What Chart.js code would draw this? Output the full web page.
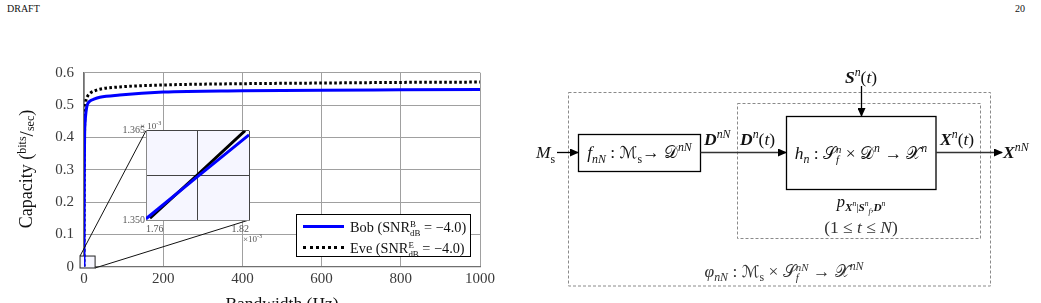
<!DOCTYPE html>
<html>
<head>
<meta charset="utf-8">
<script src="https://cdn.jsdelivr.net/npm/chart.js@4.4.0/dist/chart.umd.min.js"></script>
<style>
  html, body { margin: 0; padding: 0; background: #fff; }
  body { width: 1041px; height: 303px; position: relative; overflow: hidden;
         font-family: "Liberation Serif", "DejaVu Serif", serif; color: #111; }
  .abs { position: absolute; white-space: nowrap; line-height: 1; }
  .ctr { transform: translateX(-50%); }
  .ss { display: inline-block; vertical-align: -0.4em; font-size: 0.62em; line-height: 0.95; text-align: left; }
  .ss span { display: block; }
  sup, sub { font-size: 0.68em; line-height: 0; }
  .cal { font-family: "DejaVu Sans", "Noto Sans", serif; font-style: normal; font-size: 0.95em; }
  i { font-style: italic; }
  .bv { font-weight: bold; font-style: italic; }
  #mainChart { position: absolute; left: 0; top: 0; }
  #insetChart { position: absolute; left: 96px; top: 110px; }
  .legend { position: absolute; left: 296px; top: 214px; width: 173px; height: 41px;
            border: 1.5px solid #000; background: #fff; font-size: 14.3px; }
  .legend .row { position: absolute; left: 53px; }
  .legend .swatch { position: absolute; left: 6px; width: 41px; height: 0; }
</style>
</head>
<body>
<div class="abs" style="left:7px; top:4px; font-size:10px;">DRAFT</div>
<div class="abs" style="left:1015px; top:4px; font-size:10px;">20</div>

<canvas id="mainChart" width="520" height="303"></canvas>
<canvas id="insetChart" width="180" height="140"></canvas>

<div class="abs" style="left:140px; top:122px; font-size:9px; color:#555;">× 10<sup>-3</sup></div>
<div class="abs" style="left:243px; top:235px; font-size:9px; color:#555;">×10<sup>-3</sup></div>

<div class="legend">
  <div class="swatch" style="top:10px; border-top:3px solid #0000ff;"></div>
  <div class="swatch" style="top:31px; border-top:3px dotted #000;"></div>
  <div class="row" style="top:4px;">Bob (SNR<span class="ss"><span>B</span><span>dB</span></span> = −4.0)</div>
  <div class="row" style="top:25px;">Eve (SNR<span class="ss"><span>E</span><span>dB</span></span> = −4.0)</div>
</div>

<!-- block diagram -->
<svg class="abs" style="left:0; top:0;" width="1041" height="303">
  <defs>
    <marker id="ah" markerWidth="9" markerHeight="8" refX="8" refY="4" orient="auto" markerUnits="userSpaceOnUse">
      <path d="M0,0 L9,4 L0,8 z" fill="#000"/>
    </marker>
  </defs>
  <rect x="568.5" y="92.5" width="422" height="193.5" fill="none" stroke="#8a8a8a" stroke-width="1" stroke-dasharray="3 2"/>
  <rect x="737.5" y="103.5" width="243" height="135" fill="none" stroke="#8a8a8a" stroke-width="1" stroke-dasharray="3 2"/>
  <rect x="578.5" y="134.5" width="122" height="37" fill="none" stroke="#000" stroke-width="1.3"/>
  <rect x="786.5" y="116.5" width="149.5" height="73" fill="none" stroke="#000" stroke-width="1.3"/>
  <line x1="557" y1="152.5" x2="578" y2="152.5" stroke="#000" stroke-width="1.3" marker-end="url(#ah)"/>
  <line x1="700.5" y1="152.5" x2="786" y2="152.5" stroke="#333" stroke-width="1.3" marker-end="url(#ah)"/>
  <line x1="936" y1="152.5" x2="1002" y2="152.5" stroke="#333" stroke-width="1.3" marker-end="url(#ah)"/>
  <line x1="861.5" y1="86" x2="861.5" y2="116" stroke="#000" stroke-width="1.3" marker-end="url(#ah)"/>
</svg>

<div class="abs" style="left:536px; top:144px; font-size:17.5px;"><i>M</i><sub>s</sub></div>
<div class="abs ctr" style="left:639.5px; top:144px; font-size:17.5px;"><i>f</i><sub><i>nN</i></sub> : <span class="cal">ℳ</span><sub>s</sub>→ <span class="cal">𝒟</span><sup><i>nN</i></sup></div>
<div class="abs" style="left:704px; top:131px; font-size:17.5px;"><span class="bv">D</span><sup><i>nN</i></sup></div>
<div class="abs" style="left:740px; top:131px; font-size:17.5px;"><span class="bv">D</span><sup><i>n</i></sup>(<i>t</i>)</div>
<div class="abs ctr" style="left:861px; top:144px; font-size:17.5px;"><i>h</i><sub><i>n</i></sub> : <span class="cal">𝒮</span><span class="ss"><span><i>n</i></span><span><i>f</i></span></span> × <span class="cal">𝒟</span><sup><i>n</i></sup> → <span class="cal">𝒳</span><sup><i>n</i></sup></div>
<div class="abs" style="left:940px; top:131px; font-size:17.5px;"><span class="bv">X</span><sup><i>n</i></sup>(<i>t</i>)</div>
<div class="abs" style="left:1003px; top:144px; font-size:17.5px;"><span class="bv">X</span><sup><i>nN</i></sup></div>
<div class="abs ctr" style="left:861px; top:69px; font-size:17.5px;"><span class="bv">S</span><sup><i>n</i></sup>(<i>t</i>)</div>
<div class="abs ctr" style="left:861px; top:194px; font-size:16.5px;"><i>p</i><sub><span class="bv">X</span><sup><i>n</i></sup>|<span class="bv">S</span><sup><i>n</i></sup><sub><i>f</i></sub>,<span class="bv">D</span><sup><i>n</i></sup></sub></div>
<div class="abs ctr" style="left:861px; top:219px; font-size:17.5px; color:#333;">(1 ≤ <i>t</i> ≤ <i>N</i>)</div>
<div class="abs ctr" style="left:784px; top:262px; font-size:17.5px; color:#333;"><i>φ</i><sub><i>nN</i></sub> : <span class="cal">ℳ</span><sub>s</sub> × <span class="cal">𝒮</span><span class="ss"><span><i>nN</i></span><span><i>f</i></span></span> → <span class="cal">𝒳</span><sup><i>nN</i></sup></div>

<script>
// main plot values
const bandwidth = [0, 0.3, 0.8, 1.5, 3, 5, 8, 15, 25, 40, 90, 200, 400, 600, 800, 1000];
const bobCapacity = [0, 0.15, 0.3, 0.4, 0.45, 0.478, 0.5, 0.512, 0.518, 0.524, 0.531, 0.540, 0.544, 0.546, 0.547, 0.548];
const eveCapacity = [0, 0.17, 0.32, 0.43, 0.49, 0.515, 0.525, 0.536, 0.543, 0.549, 0.556, 0.562, 0.566, 0.568, 0.570, 0.571];
const xTicks = [0, 200, 400, 600, 800, 1000];
const yTicks = [0, 0.1, 0.2, 0.3, 0.4, 0.5, 0.6];

// zoomed inset (units of 1e-3)
const insetBobBw = [1.76, 1.79, 1.82];
const insetBob = [1.3502, 1.3573, 1.3643];
const insetEveBw = [1.7623, 1.79, 1.8177];
const insetEve = [1.3503, 1.3576, 1.365];
const insetXTicks = [1.76, 1.79, 1.82];
const insetXLabels = ['1.76', '', '1.82'];
const insetYTicks = [1.350, 1.3575, 1.365];
const insetYLabels = ['1.350', '', '1.365'];

// region of the main plot that the inset magnifies
const zoomX = [-10, 28];
const zoomY = [-0.004, 0.033];

const serif = '"Liberation Serif", "DejaVu Serif", serif';
Chart.defaults.font.family = serif;

function toPoints(xs, ys) {
    return xs.map((x, i) => ({ x: x, y: ys[i] }));
}

const insetBackground = {
    id: 'insetBackground',
    beforeDraw(chart) {
        const a = chart.chartArea;
        const ctx = chart.ctx;
        ctx.save();
        ctx.fillStyle = '#f6f6ff';
        ctx.fillRect(a.left, a.top, a.right - a.left, a.bottom - a.top);
        ctx.restore();
    }
};

const insetChart = new Chart(document.getElementById('insetChart'), {
    type: 'line',
    data: {
        datasets: [
            { data: toPoints(insetBobBw, insetBob), borderColor: '#0000ff', borderWidth: 3, pointRadius: 0 },
            { data: toPoints(insetEveBw, insetEve), borderColor: '#000', borderWidth: 3, pointRadius: 0 }
        ]
    },
    options: {
        responsive: false,
        animation: false,
        devicePixelRatio: 1,
        layout: { padding: { left: 0, top: 20.7, right: 27, bottom: 0 } },
        plugins: { legend: { display: false }, tooltip: { enabled: false } },
        scales: {
            x: {
                type: 'linear', min: 1.76, max: 1.82,
                afterBuildTicks: s => { s.ticks = insetXTicks.map(v => ({ value: v })); },
                afterFit: s => { s.height = 30; },
                ticks: { align: 'inner', padding: 3, color: '#555', font: { size: 10 },
                         callback: (v, i) => insetXLabels[i] },
                grid: { color: '#444', lineWidth: 1, drawTicks: false },
                border: { color: '#888', width: 1 }
            },
            y: {
                type: 'linear', min: 1.350, max: 1.365,
                afterBuildTicks: s => { s.ticks = insetYTicks.map(v => ({ value: v })); },
                afterFit: s => { s.width = 50; },
                ticks: { padding: 1, color: '#555', font: { size: 10 },
                         callback: (v, i) => insetYLabels[i] },
                grid: { color: '#444', lineWidth: 1, drawTicks: false },
                border: { color: '#888', width: 1 }
            }
        }
    },
    plugins: [insetBackground]
});

const mainDecor = {
    id: 'mainDecor',
    beforeDatasetsDraw(chart) {
        const ctx = chart.ctx;
        const x = chart.scales.x, y = chart.scales.y;
        const x0 = x.getPixelForValue(zoomX[0]), x1 = x.getPixelForValue(zoomX[1]);
        const y0 = y.getPixelForValue(zoomY[1]), y1 = y.getPixelForValue(zoomY[0]);
        ctx.save();
        ctx.fillStyle = '#f6f6ff';
        ctx.fillRect(x0, y0, x1 - x0, y1 - y0);
        ctx.strokeStyle = '#222';
        ctx.lineWidth = 1;
        ctx.strokeRect(x0, y0, x1 - x0, y1 - y0);
        ctx.restore();
    },
    afterDraw(chart) {
        const ctx = chart.ctx;
        const x = chart.scales.x, y = chart.scales.y;
        const x0 = x.getPixelForValue(zoomX[0]), x1 = x.getPixelForValue(zoomX[1]);
        const y0 = y.getPixelForValue(zoomY[1]), y1 = y.getPixelForValue(zoomY[0]);
        const ia = insetChart.chartArea;
        const offX = 96, offY = 110;
        ctx.save();
        ctx.strokeStyle = '#111';
        ctx.lineWidth = 1;
        ctx.beginPath();
        ctx.moveTo(x0, y0);
        ctx.lineTo(ia.left + offX, ia.top + offY);
        ctx.moveTo(x1, y1);
        ctx.lineTo(ia.right + offX, ia.bottom + offY);
        ctx.stroke();

        // axis titles
        ctx.fillStyle = '#111';
        ctx.font = '17.5px ' + serif;
        ctx.textAlign = 'center';
        ctx.textBaseline = 'alphabetic';
        ctx.fillText('Bandwidth (Hz)', (chart.chartArea.left + chart.chartArea.right) / 2, 309);

        ctx.translate(32, 169);
        ctx.rotate(-Math.PI / 2);
        ctx.textAlign = 'left';
        const parts = [
            { t: 'Capacity (', f: 18, dy: 0 },
            { t: 'bits', f: 12, dy: -6 },
            { t: '/', f: 19, dy: 1 },
            { t: 'sec', f: 12, dy: 2 },
            { t: ')', f: 18, dy: 0 }
        ];
        let total = 0;
        parts.forEach(p => { ctx.font = p.f + 'px ' + serif; p.w = ctx.measureText(p.t).width; total += p.w; });
        let cx = -total / 2;
        parts.forEach(p => {
            ctx.font = p.f + 'px ' + serif;
            ctx.fillText(p.t, cx, p.dy);
            cx += p.w;
        });
        ctx.restore();
    }
};

new Chart(document.getElementById('mainChart'), {
    type: 'line',
    data: {
        datasets: [
            {
                label: 'Bob',
                data: toPoints(bandwidth, bobCapacity),
                borderColor: '#0000ff',
                borderWidth: 3,
                pointRadius: 0,
                cubicInterpolationMode: 'monotone'
            },
            {
                label: 'Eve',
                data: toPoints(bandwidth, eveCapacity),
                borderColor: '#000',
                borderWidth: 3,
                borderDash: [2.6, 2.4],
                pointRadius: 0,
                cubicInterpolationMode: 'monotone'
            }
        ]
    },
    options: {
        responsive: false,
        animation: false,
        devicePixelRatio: 1,
        layout: { padding: { left: 0, top: 72.7, right: 40, bottom: 0 } },
        plugins: { legend: { display: false }, tooltip: { enabled: false } },
        scales: {
            x: {
                type: 'linear', min: 0, max: 1000,
                afterBuildTicks: s => { s.ticks = xTicks.map(v => ({ value: v })); },
                afterFit: s => { s.height = 36.3; },
                ticks: { padding: 3, color: '#3a3a3a', font: { size: 15 },
                         callback: v => String(v) },
                grid: { color: '#a0a0a0', lineWidth: 1, drawTicks: false },
                border: { color: '#707070', width: 1.3 }
            },
            y: {
                type: 'linear', min: 0, max: 0.6,
                afterBuildTicks: s => { s.ticks = yTicks.map(v => ({ value: v })); },
                afterFit: s => { s.width = 84; },
                ticks: { padding: 10, color: '#3a3a3a', font: { size: 15 },
                         callback: v => (v === 0 ? '0' : v.toFixed(1)) },
                grid: { color: '#a0a0a0', lineWidth: 1, drawTicks: false },
                border: { color: '#707070', width: 1.3 }
            }
        }
    },
    plugins: [mainDecor]
});
</script>
</body>
</html>
